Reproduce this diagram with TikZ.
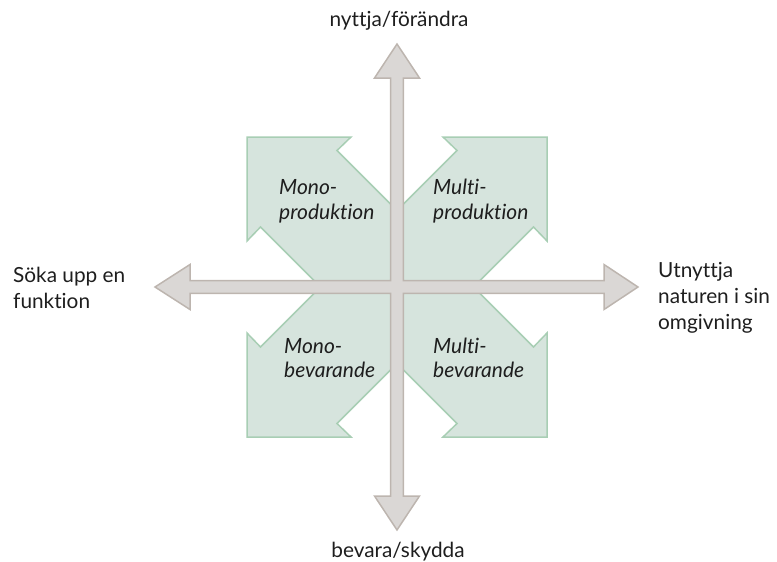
\documentclass[tikz,border=0pt]{standalone}
\usepackage{fontspec}
\setmainfont{Lato}[RawFeature={-liga;-dlig}]
\usetikzlibrary{calc}
\definecolor{gfill}{HTML}{D6E4DD}
\definecolor{gline}{HTML}{A8CEB4}
\definecolor{afill}{HTML}{DAD7D5}
\definecolor{aline}{HTML}{BDB5AF}
\definecolor{txt}{HTML}{1E1E1E}
\begin{document}
\begin{tikzpicture}[x=1pt,y=-1pt,
  quad/.style={fill=gfill, draw=gline, line width=1.5pt, line join=miter},
  axisshape/.style={fill=afill, draw=aline, line width=1.5pt, line join=miter},
  lbl/.style={font=\fontsize{20.8}{26}\selectfont, inner sep=0pt, text=txt, align=left},
  qlbl/.style={font=\fontsize{21}{25}\selectfont\itshape, inner sep=0pt, text=txt, align=left, anchor=base west}]
\useasboundingbox (0,0) rectangle (777,562);
\coordinate (C) at (397,287);
% quadrant arrows
\begin{scope}[shift={(397,287)}]
\foreach \sx/\sy in {-1/-1,1/-1,-1/1,1/1}{
  \draw[quad] (0,0) -- ({76.5*\sx},0) -- ({136.5*\sx},{60*\sy}) -- ({150*\sx},{46*\sy})
    -- ({150*\sx},{150*\sy}) -- ({46*\sx},{150*\sy}) -- ({60*\sx},{136.5*\sy})
    -- (0,{76.5*\sy}) -- cycle;
}
% axes cross
\def\w{6.3}
\draw[axisshape] (\w,\w) -- (207,\w) -- (207,22.5) -- (241,0) -- (207,-22.5) -- (207,-\w)
  -- (\w,-\w) -- (\w,-209) -- (22.5,-209) -- (0,-243) -- (-22.5,-209) -- (-\w,-209)
  -- (-\w,-\w) -- (-207,-\w) -- (-207,-22.5) -- (-242,0) -- (-207,22.5) -- (-207,\w)
  -- (-\w,\w) -- (-\w,209) -- (-22.5,209) -- (0,243) -- (22.5,209) -- (\w,209) -- cycle;
\end{scope}
% axis labels
\node[lbl, anchor=base] (top) at (399,27) {nyttja/förändra};
\node[lbl, anchor=base] (bottom) at (398,557) {bevara/skydda};
\node[lbl, anchor=base west] (left) at (13,308) {Söka upp en\\funktion};
\node[lbl, anchor=base west] (right) at (658,329) {Utnyttja\\naturen i sin\\omgivning};
% quadrant labels
\node[qlbl] (q1) at (279,219) {Mono-\\produktion};
\node[qlbl] (q2) at (433,219) {Multi-\\produktion};
\node[qlbl, font=\fontsize{21}{24}\selectfont\itshape] (q3) at (284,377) {Mono-\\bevarande};
\node[qlbl, font=\fontsize{21}{24}\selectfont\itshape] (q4) at (433,377) {Multi-\\bevarande};
\end{tikzpicture}
\end{document}
